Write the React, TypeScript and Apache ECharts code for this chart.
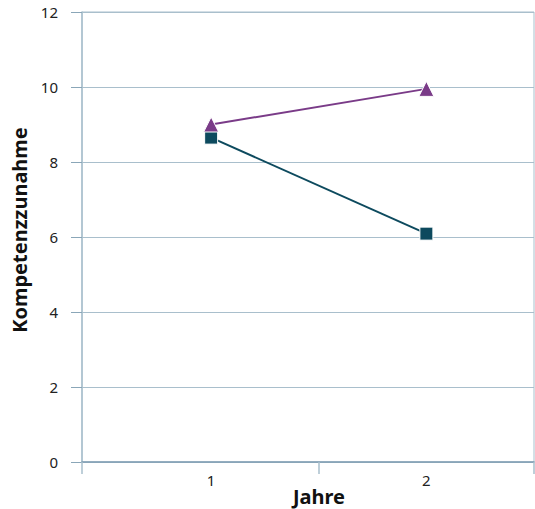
import React, { useEffect, useRef } from "react";
import * as echarts from "echarts";

const xValues = [1, 2];
const xTickPositions = [0.4, 1.5, 2.5];
const yTicks = [0, 2, 4, 6, 8, 10, 12];
const seriesTriangle = [9.0, 9.95];
const seriesSquare = [8.65, 6.09];

export default function App() {
  const ref = useRef<HTMLDivElement>(null);
  useEffect(() => {
    if (!ref.current) return;
    const chart = echarts.init(ref.current, null, { renderer: "svg" });
    const font = "Noto Sans";
    chart.setOption({
      animation: false,
      textStyle: { fontFamily: font },
      grid: {
        left: 82,
        right: 1,
        top: 12,
        bottom: 47,
        show: true,
        borderColor: "#a9bfcc",
        borderWidth: 1,
        backgroundColor: "transparent",
      },
      xAxis: {
        type: "value",
        min: 0.4,
        max: 2.5,
        splitLine: { show: false },
        axisLine: { show: true, lineStyle: { color: "#7f9db2", width: 1.5 } },
        axisTick: {
          show: true,
          length: 12,
          customValues: xTickPositions,
          lineStyle: { color: "#a9bfcc", width: 1.5 },
        },
        axisLabel: {
          customValues: xValues,
          color: "#222",
          fontSize: 15,
          margin: 10,
          fontFamily: font,
        },
      },
      yAxis: {
        type: "value",
        min: 0,
        max: 12,
        interval: 2,
        axisLine: { show: true, lineStyle: { color: "#a9bfcc", width: 1.5 } },
        axisTick: { show: true, length: 11, lineStyle: { color: "#8aa6b8" } },
        splitLine: { show: true, lineStyle: { color: "#a9bfcc", width: 1.2 } },
        axisLabel: {
          color: "#222",
          fontSize: 15,
          margin: 24,
          fontFamily: font,
          formatter: (v: number) => (yTicks.includes(v) ? String(v) : ""),
        },
      },
      graphic: [
        {
          type: "text",
          x: 319,
          y: 496,
          style: {
            text: "Jahre",
            fontSize: 20,
            fontWeight: "bold",
            fontFamily: font,
            fill: "#111",
            align: "center",
            verticalAlign: "middle",
          },
        },
        {
          type: "text",
          x: 19,
          y: 230,
          rotation: Math.PI / 2,
          style: {
            text: "Kompetenzzunahme",
            fontSize: 20,
            fontWeight: "bold",
            fontFamily: font,
            fill: "#111",
            align: "center",
            verticalAlign: "middle",
          },
        },
      ],
      series: [
        {
          type: "line",
          data: xValues.map((x, i) => [x, seriesSquare[i]]),
          symbol: "rect",
          symbolSize: 13,
          lineStyle: { color: "#0d4a5e", width: 2 },
          itemStyle: { color: "#0d4a5e", borderColor: "#ffffff", borderWidth: 1 },
          z: 3,
        },
        {
          type: "line",
          data: xValues.map((x, i) => [x, seriesTriangle[i]]),
          symbol: "triangle",
          symbolSize: 15,
          lineStyle: { color: "#7a3b88", width: 2 },
          itemStyle: { color: "#7a3b88", borderColor: "#ffffff", borderWidth: 1 },
          z: 4,
        },
      ],
    });
    return () => chart.dispose();
  }, []);
  return (
    <div
      ref={ref}
      style={{ position: "fixed", left: 0, top: 0, width: 535, height: 509, background: "#fff" }}
    />
  );
}
